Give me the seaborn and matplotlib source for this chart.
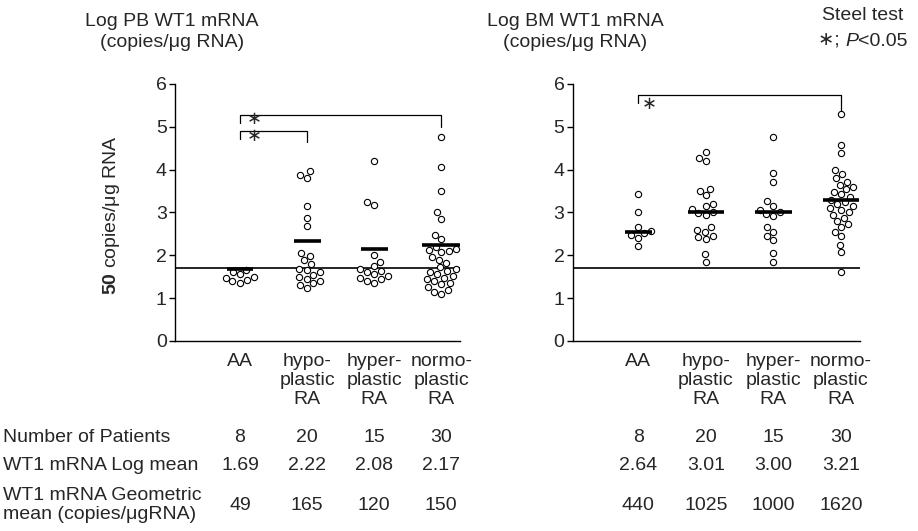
import numpy as np
import pandas as pd
import seaborn as sns
import matplotlib.pyplot as plt
from matplotlib.transforms import blended_transform_factory

sns.set_theme(style="white")
plt.rcParams['font.family'] = ['Liberation Sans', 'DejaVu Sans']
plt.rcParams['mathtext.fontset'] = 'custom'
plt.rcParams['mathtext.rm'] = 'Liberation Sans'
plt.rcParams['mathtext.it'] = 'Liberation Sans:italic'
plt.rcParams['mathtext.bf'] = 'Liberation Sans:bold'

groups = ['AA', 'hypo-\nplastic\nRA', 'hyper-\nplastic\nRA', 'normo-\nplastic\nRA']

# log WT1 mRNA, peripheral blood
pb_aa = [1.66, 1.60, 1.56, 1.50, 1.47, 1.43, 1.39, 1.36]
pb_hypo = [3.96, 3.88, 3.80, 3.14, 2.87, 2.69, 2.05, 1.99, 1.89, 1.80,
           1.68, 1.65, 1.60, 1.55, 1.50, 1.45, 1.40, 1.35, 1.30, 1.24]
pb_hyper = [4.19, 3.25, 3.18, 2.01, 1.85, 1.75, 1.68, 1.64, 1.60, 1.56,
            1.52, 1.48, 1.44, 1.40, 1.36]
pb_normo = [4.76, 4.06, 3.51, 3.00, 2.85, 2.48, 2.38, 2.20, 2.15, 2.12,
            2.10, 2.08, 1.97, 1.90, 1.82, 1.72, 1.68, 1.64, 1.60, 1.56,
            1.52, 1.48, 1.44, 1.40, 1.36, 1.32, 1.26, 1.20, 1.15, 1.10]

# log WT1 mRNA, bone marrow
bm_aa = [3.43, 3.00, 2.66, 2.57, 2.52, 2.48, 2.40, 2.22]
bm_hypo = [4.40, 4.27, 4.19, 3.55, 3.50, 3.40, 3.20, 3.15, 3.08, 3.02,
           2.98, 2.95, 2.65, 2.60, 2.55, 2.45, 2.42, 2.38, 2.02, 1.85]
bm_hyper = [4.77, 3.93, 3.72, 3.26, 3.15, 3.06, 3.00, 2.96, 2.92, 2.66,
            2.55, 2.44, 2.35, 2.05, 1.85]
bm_normo = [5.30, 4.58, 4.39, 3.98, 3.90, 3.80, 3.72, 3.65, 3.60, 3.55,
            3.48, 3.42, 3.36, 3.30, 3.25, 3.20, 3.15, 3.10, 3.05, 3.00,
            2.95, 2.88, 2.80, 2.72, 2.65, 2.55, 2.45, 2.25, 2.08, 1.62]

pb_bars = [1.68, 2.34, 2.15, 2.23]
bm_bars = [2.54, 3.02, 3.02, 3.29]

n_patients = ['8', '20', '15', '30']
pb_log_mean = ['1.69', '2.22', '2.08', '2.17']
pb_geo_mean = ['49', '165', '120', '150']
bm_log_mean = ['2.64', '3.01', '3.00', '3.21']
bm_geo_mean = ['440', '1025', '1000', '1620']

cutoff = np.log10(50)


def long_form(cols):
    return pd.DataFrame({'group': np.repeat(groups, [len(c) for c in cols]),
                         'value': np.concatenate(cols)})


df_pb = long_form([pb_aa, pb_hypo, pb_hyper, pb_normo])
df_bm = long_form([bm_aa, bm_hypo, bm_hyper, bm_normo])

FS = 14
fig = plt.figure(figsize=(9.18, 5.31), dpi=100)
ax1 = fig.add_axes([0.1906, 0.358, 0.3105, 0.484])
ax2 = fig.add_axes([0.624, 0.358, 0.3126, 0.484])

bar_half_pb = [0.2, 0.2, 0.2, 0.28]
bar_half_bm = [0.2, 0.27, 0.27, 0.27]

for ax, df, bars, half in [(ax1, df_pb, pb_bars, bar_half_pb),
                           (ax2, df_bm, bm_bars, bar_half_bm)]:
    sns.swarmplot(data=df, x='group', y='value', order=groups, ax=ax,
                  size=4.5, color='white', edgecolor='black', linewidth=0.8)
    pos = np.arange(len(groups))
    ax.hlines(bars, pos - np.array(half), pos + np.array(half),
              color='black', lw=2.6, zorder=5)
    ax.axhline(cutoff, color='black', lw=1.2, zorder=1)
    ax.set_xlim(-0.97, 3.28)
    ax.set_ylim(0, 6)
    ax.set_yticks(range(7))
    ax.set_xlabel('')
    ax.set_ylabel('')
    sns.despine(ax=ax)
    for s in ['left', 'bottom']:
        ax.spines[s].set_color('black')
        ax.spines[s].set_linewidth(1.0)
    ax.tick_params(axis='y', left=True, length=4, width=1, color='black',
                   labelsize=FS, pad=2)
    ax.tick_params(axis='x', bottom=False, labelsize=FS, pad=3)
    for t in ax.get_xticklabels():
        t.set_linespacing(1.15)

ax1.set_ylabel(r'$\mathbf{50}$ copies/μg RNA', fontsize=FS)
ax1.yaxis.set_label_coords(-0.185, 0.49)

# significance brackets
star = '\u2217'
ax1.plot([0, 0, 3, 3], [5.08, 5.28, 5.28, 5.0], color='black', lw=0.9)
ax1.text(0.22, 5.18, star, fontsize=13, ha='center', va='center')
ax1.plot([0, 0, 1, 1], [4.72, 4.91, 4.91, 4.65], color='black', lw=0.9)
ax1.text(0.22, 4.78, star, fontsize=13, ha='center', va='center')
ax2.plot([0, 0, 3, 3], [5.55, 5.75, 5.75, 5.3], color='black', lw=0.9)
ax2.text(0.16, 5.53, star, fontsize=13, ha='center', va='center')

# titles
fig.text(172 / 918, 1 - 32 / 531, 'Log PB WT1 mRNA\n(copies/μg RNA)',
         ha='center', va='center', fontsize=FS, linespacing=1.3)
fig.text(575 / 918, 1 - 32 / 531, 'Log BM WT1 mRNA\n(copies/μg RNA)',
         ha='center', va='center', fontsize=FS, linespacing=1.3)

# Steel test note, italic P chained after the star
fig.text(822 / 918, 1 - 15 / 531, 'Steel test', ha='left', va='center',
         fontsize=FS)
s1 = fig.text(818 / 918, 1 - 50 / 531, star + '; ', ha='left',
              va='bottom', fontsize=FS)
s2 = ax2.annotate('P', xy=(1, 0), xycoords=s1, ha='left', va='bottom',
                  fontsize=FS, style='italic', annotation_clip=False)
ax2.annotate('<0.05', xy=(1, 0), xycoords=s2, ha='left', va='bottom',
             fontsize=FS, annotation_clip=False)

# table below the panels
row_y = [1 - 438 / 531, 1 - 466 / 531, 1 - 505 / 531]
row_labels = ['Number of Patients', 'WT1 mRNA Log mean',
              'WT1 mRNA Geometric\nmean (copies/μgRNA)']
for y, lab in zip(row_y, row_labels):
    fig.text(3 / 918, y, lab, ha='left', va='center', fontsize=FS,
             linespacing=1.15)

for ax, rows in [(ax1, [n_patients, pb_log_mean, pb_geo_mean]),
                 (ax2, [n_patients, bm_log_mean, bm_geo_mean])]:
    tr = blended_transform_factory(ax.transData, fig.transFigure)
    for y, vals in zip(row_y, rows):
        for i, v in enumerate(vals):
            ax.text(i, y, v, transform=tr, ha='center', va='center',
                    fontsize=FS)

fig.savefig('out.png', dpi=100)
